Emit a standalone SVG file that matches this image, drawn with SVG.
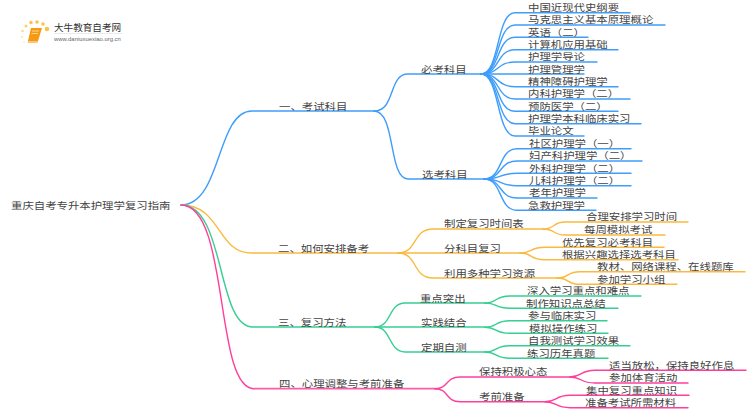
<svg xmlns="http://www.w3.org/2000/svg" width="750" height="410" viewBox="0 0 750 410">
<style>
text{font-family:"Noto Sans CJK SC","Liberation Sans",sans-serif;font-size:9.5px;fill:#444;transform-box:fill-box;transform-origin:0 50%;transform:scaleX(1.2)}
#logo text{transform:none}
.c{fill:none;stroke-width:1.4;stroke-linecap:round}
.b{stroke:#3f9dfb}.o{stroke:#fbb93f}.g{stroke:#35cf92}.p{stroke:#ff3f9c}
.pt{stroke-width:1.8;stroke:#ff5aa8}
</style>
<rect width="750" height="410" fill="#fff"/>
<g id="connectors">
<g class="c b">
<path d="M181 205C222 205 216 111 252 111H374"/>
<path d="M374 111C396 111 388 74 408 74H481"/>
<path d="M374 111C396 111 388 179 408 179H484"/>
<path d="M481 74C500 74 496 12.700 515 12.700H630"/>
<path d="M481 74C500 74 496 25 515 25H665"/>
<path d="M481 74C500 74 496 37.300 515 37.300H588"/>
<path d="M481 74C500 74 496 49.700 515 49.700H618"/>
<path d="M481 74C500 74 496 62 515 62H597"/>
<path d="M481 74H584"/>
<path d="M481 74C500 74 496 86.700 515 86.700H618"/>
<path d="M481 74C500 74 496 99 515 99H630"/>
<path d="M481 74C500 74 496 111.300 515 111.300H618"/>
<path d="M481 74C500 74 496 123.700 515 123.700H641"/>
<path d="M481 74C500 74 496 136 515 136H584"/>
<path d="M484 179C503 179 498 148.700 517 148.700H631"/>
<path d="M484 179C503 179 498 161 517 161H642"/>
<path d="M484 179C503 179 498 173.300 517 173.300H631"/>
<path d="M484 179C503 179 498 185.700 517 185.700H631"/>
<path d="M484 179C503 179 498 198 517 198H597"/>
<path d="M484 179C503 179 498 210.300 517 210.300H596"/>
</g>
<g class="c o">
<path d="M181 205C222 205 216 253 252 253H398"/>
<path d="M398 253C418 253 412 229 433 229H543"/>
<path d="M398 253H520"/>
<path d="M398 253C418 253 412 278 433 278H557"/>
<path d="M543 229C556 229 552 222 565 222H688"/>
<path d="M543 229C556 229 552 235 565 235H665"/>
<path d="M520 253C533 253 529 247.300 545 247.300H664"/>
<path d="M520 253C533 253 529 259.700 545 259.700H678"/>
<path d="M557 278C570 278 566 271.700 580 271.700H745"/>
<path d="M557 278C570 278 566 284.300 580 284.300H677"/>
</g>
<g class="c g">
<path d="M181 205C226 205 216 327 253 327H375"/>
<path d="M375 327C392 327 388 303 405 303H485"/>
<path d="M375 327H485"/>
<path d="M375 327C392 327 388 352 405 352H485"/>
<path d="M485 303C498 303 494 296 510 296H641"/>
<path d="M485 303C498 303 494 308.300 510 308.300H618"/>
<path d="M485 327.300C498 327.300 494 320.700 510 320.700H607"/>
<path d="M485 327.300C498 327.300 494 333.300 510 333.300H608"/>
<path d="M485 352C498 352 494 345.700 510 345.700H630"/>
<path d="M485 352C498 352 494 358.300 510 358.300H608"/>
</g>
<g class="c p">
<path d="M181 205C230 205 214 388.700 254 388.700"/>
<path class="pt" d="M254 388.700H435"/>
<path d="M435 388.700C449 388.700 445 377 460 377H570"/>
<path d="M435 388.700C449 388.700 445 401.700 460 401.700H545"/>
<path d="M570 377C582 377 580 370.300 595 370.300H746"/>
<path d="M570 377C582 377 580 383 595 383H688"/>
<path d="M545 401.700C557 401.700 555 395.300 570 395.300H689"/>
<path d="M545 401.700C557 401.700 555 407.700 570 407.700H688"/>
</g>
</g>
<g id="logo">
<g fill="#fcc24d">
<circle cx="47" cy="29" r="2.300"/><circle cx="43" cy="24" r="1.800"/><circle cx="37" cy="22" r="1.800"/><circle cx="31" cy="22.500" r="1.800"/><circle cx="26" cy="26" r="1.500" opacity=".8"/><circle cx="22.500" cy="31" r="1.300" opacity=".6"/><circle cx="22" cy="37" r="1.100" opacity=".4"/><circle cx="24" cy="42" r="1" opacity=".3"/>
</g>
<path d="M31 28H42L38 41H28Z" fill="#f59a12"/>
<path d="M28 41H38L37.500 43H27.500Z" fill="#f8c77a"/>
<path d="M32 31H39M31.500 33.500H38" stroke="#fde2ae" stroke-width=".8"/>
<text x="54" y="31" style="font-size:9.600px;fill:#333">大牛教育自考网</text>
<path d="M54 33.500H122" stroke="#ddd" stroke-width=".6"/>
<text x="54" y="41" style="font-size:5.900px;font-family:'Liberation Sans',sans-serif;fill:#666">www.daniuxuexiao.org.cn</text>
</g>
<g id="root"><text x="11" y="209">重庆自考专升本护理学复习指南</text></g>
<g id="n1"><text x="279" y="110">一、考试科目</text></g>
<g id="n1-1"><text x="421" y="73">必考科目</text></g>
<g id="n1-1-1"><text x="528" y="11">中国近现代史纲要</text></g>
<g id="n1-1-2"><text x="528" y="23.500">马克思主义基本原理概论</text></g>
<g id="n1-1-3"><text x="528" y="35.700">英语（二）</text></g>
<g id="n1-1-4"><text x="528" y="48">计算机应用基础</text></g>
<g id="n1-1-5"><text x="528" y="60.400">护理学导论</text></g>
<g id="n1-1-6"><text x="528" y="72.700">护理管理学</text></g>
<g id="n1-1-7"><text x="528" y="85">精神障碍护理学</text></g>
<g id="n1-1-8"><text x="528" y="97.400">内科护理学（二）</text></g>
<g id="n1-1-9"><text x="528" y="109.700">预防医学（二）</text></g>
<g id="n1-1-10"><text x="528" y="122">护理学本科临床实习</text></g>
<g id="n1-1-11"><text x="528" y="134.400">毕业论文</text></g>
<g id="n1-2"><text x="422" y="178">选考科目</text></g>
<g id="n1-2-1"><text x="529" y="147">社区护理学（一）</text></g>
<g id="n1-2-2"><text x="529" y="159.400">妇产科护理学（二）</text></g>
<g id="n1-2-3"><text x="529" y="171.700">外科护理学（二）</text></g>
<g id="n1-2-4"><text x="529" y="184">儿科护理学（二）</text></g>
<g id="n1-2-5"><text x="529" y="196.400">老年护理学</text></g>
<g id="n1-2-6"><text x="528" y="208.700">急救护理学</text></g>
<g id="n2"><text x="278" y="252">二、如何安排备考</text></g>
<g id="n2-1"><text x="444" y="227">制定复习时间表</text></g>
<g id="n2-1-1"><text x="586" y="220.500">合理安排学习时间</text></g>
<g id="n2-1-2"><text x="584" y="233.500">每周模拟考试</text></g>
<g id="n2-2"><text x="444" y="252">分科目复习</text></g>
<g id="n2-2-1"><text x="562" y="245.700">优先复习必考科目</text></g>
<g id="n2-2-2"><text x="562" y="258">根据兴趣选择选考科目</text></g>
<g id="n2-3"><text x="444" y="277">利用多种学习资源</text></g>
<g id="n2-3-1"><text x="597" y="270">教材、网络课程、在线题库</text></g>
<g id="n2-3-2"><text x="597" y="282.700">参加学习小组</text></g>
<g id="n3"><text x="278" y="326">三、复习方法</text></g>
<g id="n3-1"><text x="420" y="302">重点突出</text></g>
<g id="n3-1-1"><text x="527" y="294.500">深入学习重点和难点</text></g>
<g id="n3-1-2"><text x="526" y="306.800">制作知识点总结</text></g>
<g id="n3-2"><text x="421" y="326">实践结合</text></g>
<g id="n3-2-1"><text x="528" y="319">参与临床实习</text></g>
<g id="n3-2-2"><text x="529" y="331.700">模拟操作练习</text></g>
<g id="n3-3"><text x="421" y="351">定期自测</text></g>
<g id="n3-3-1"><text x="528" y="344">自我测试学习效果</text></g>
<g id="n3-3-2"><text x="527" y="356.700">练习历年真题</text></g>
<g id="n4"><text x="279" y="387.500">四、心理调整与考前准备</text></g>
<g id="n4-1"><text x="479" y="375.500">保持积极心态</text></g>
<g id="n4-1-1"><text x="609" y="368.700">适当放松，保持良好作息</text></g>
<g id="n4-1-2"><text x="609" y="381.500">参加体育活动</text></g>
<g id="n4-2"><text x="479" y="400">考前准备</text></g>
<g id="n4-2-1"><text x="586" y="393.700">集中复习重点知识</text></g>
<g id="n4-2-2"><text x="585" y="406">准备考试所需材料</text></g>
</svg>
